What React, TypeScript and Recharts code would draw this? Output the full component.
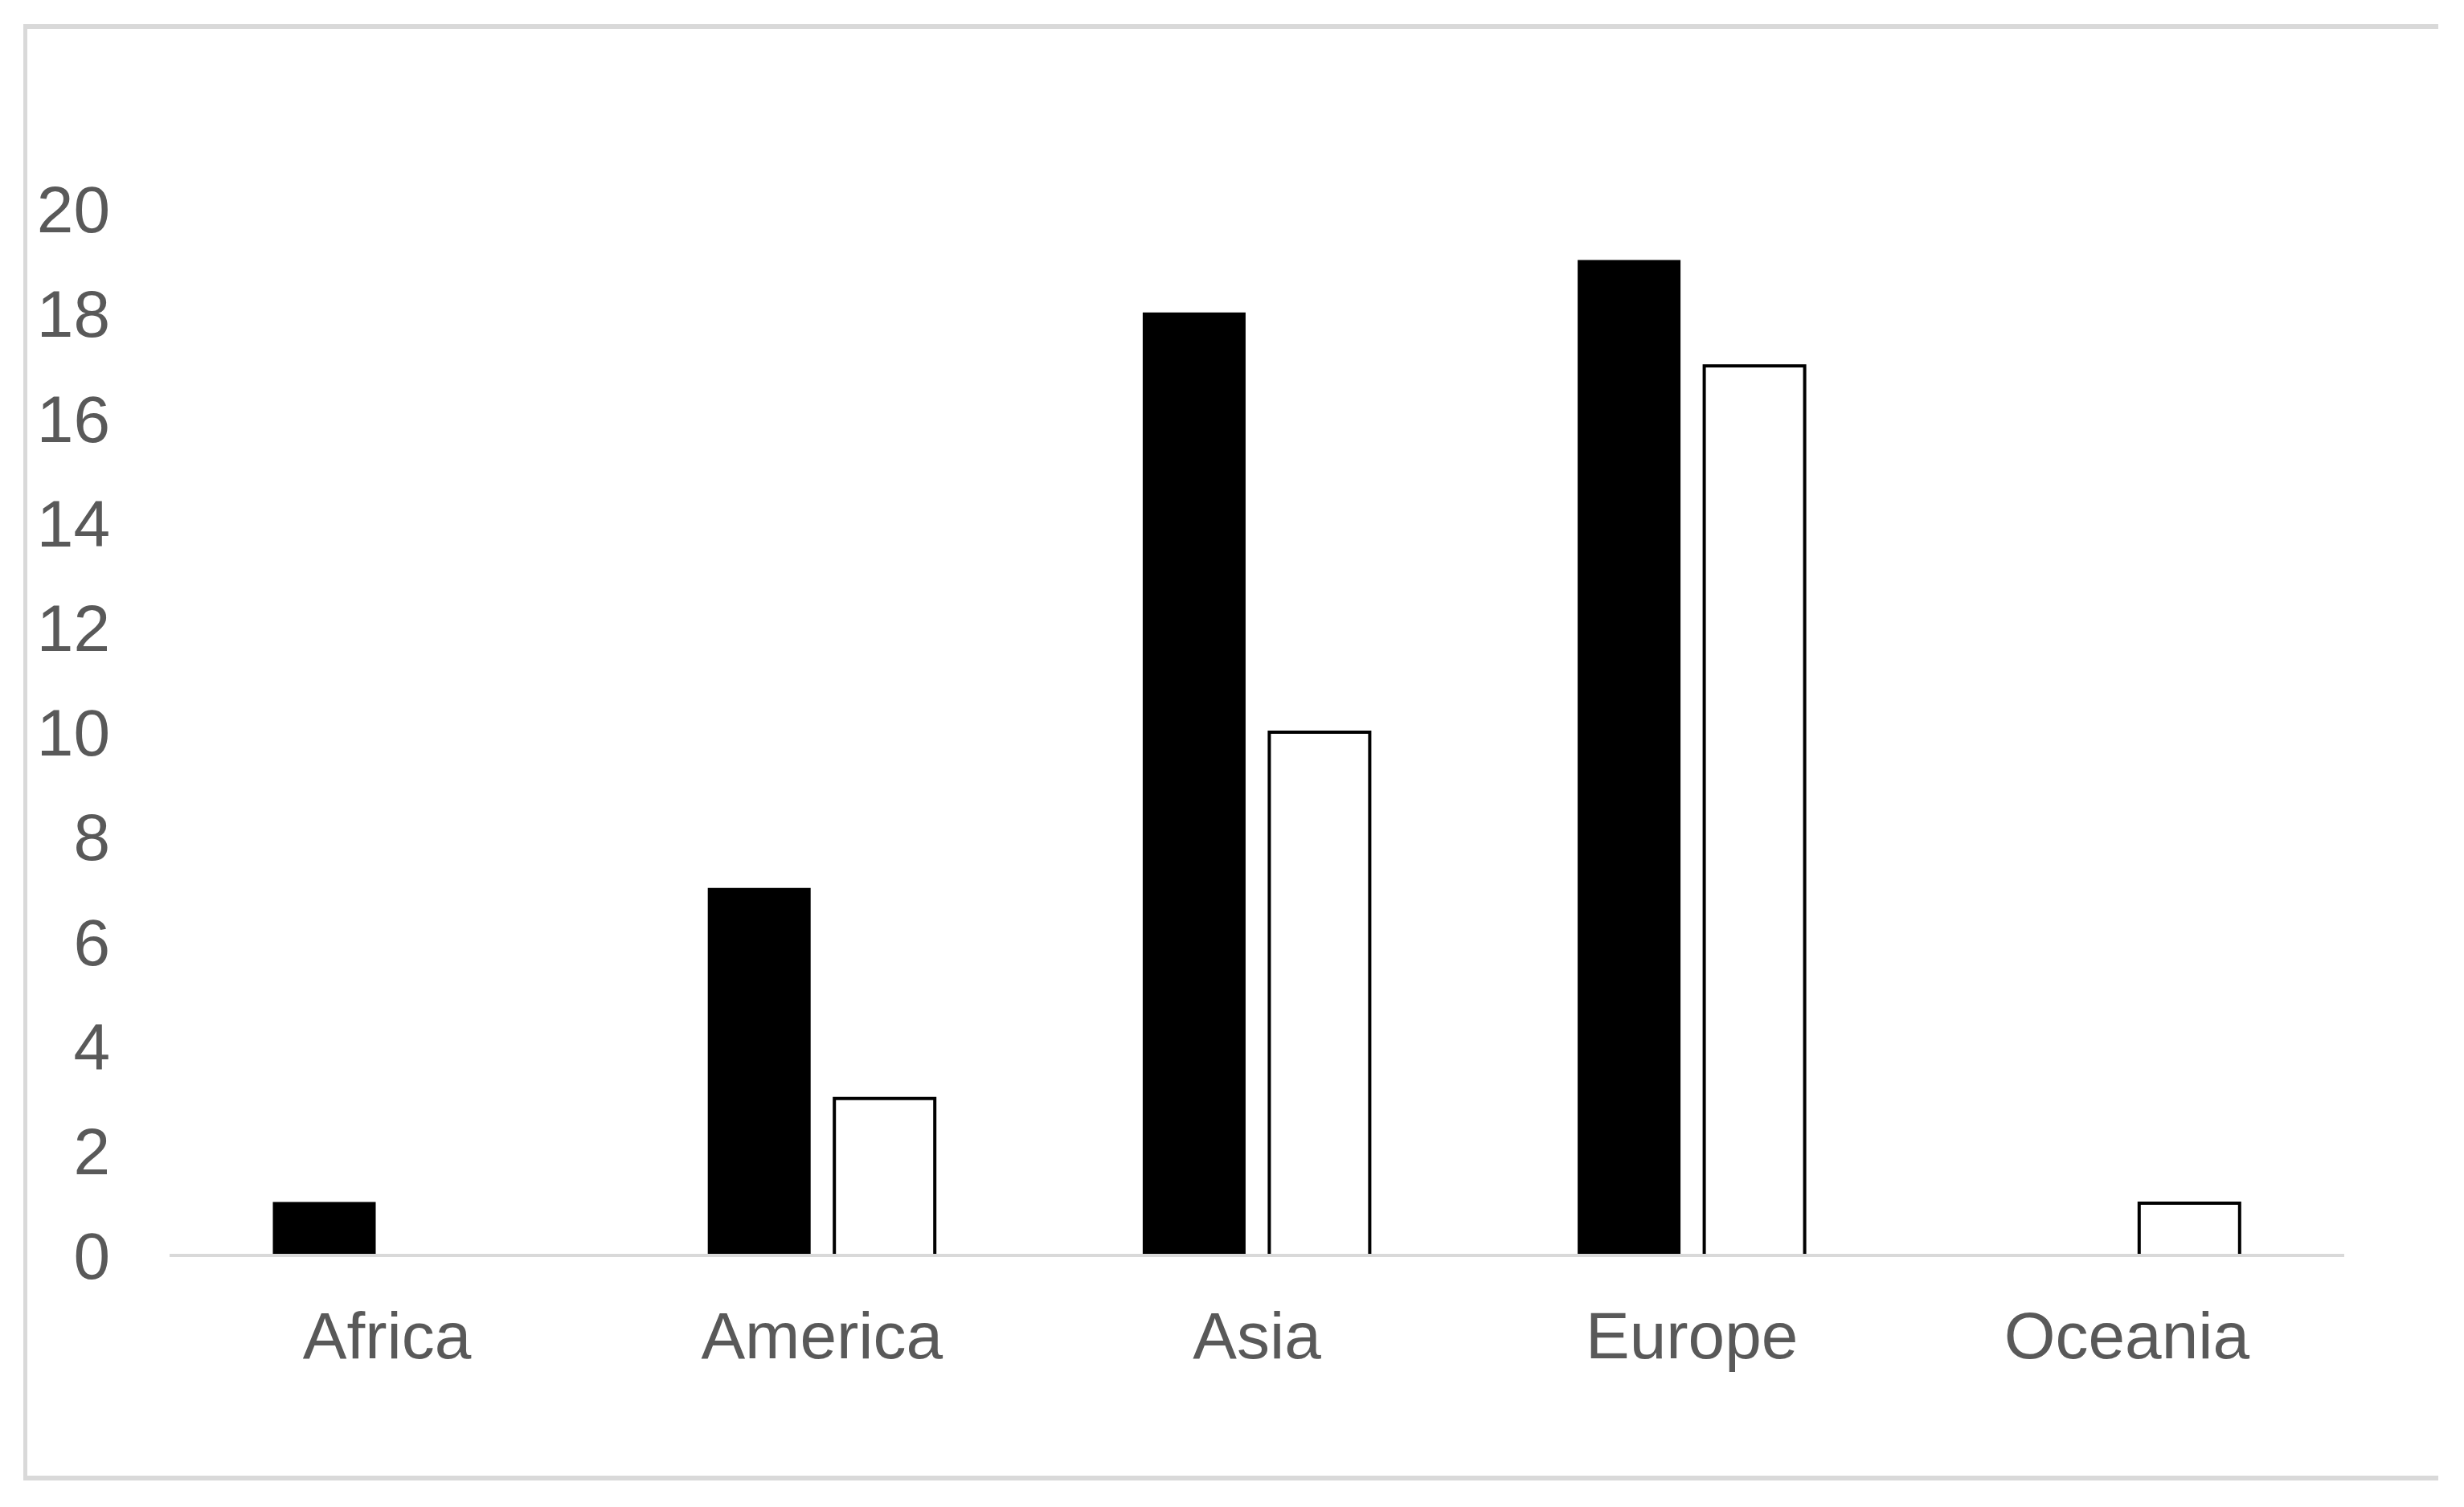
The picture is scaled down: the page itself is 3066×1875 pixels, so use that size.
import React from 'react';
import { BarChart, Bar, XAxis, YAxis } from 'recharts';

const regions = ['Africa', 'America', 'Asia', 'Europe', 'Oceania'];
const firstSeries = [1, 7, 18, 19, 0];
const secondSeries = [0, 3, 10, 17, 1];
const yTicks = [0, 2, 4, 6, 8, 10, 12, 14, 16, 18, 20];

const data = regions.map((region, i) => ({
  region,
  first: firstSeries[i],
  second: secondSeries[i]
}));

const font = '"Liberation Sans", Arial, sans-serif';
const tickStyle = { fontSize: 82, fill: '#595959', fontFamily: font };

export default function App() {
  return (
    <div style={{ position: 'absolute', left: 0, top: 0, width: 3066, height: 1875, background: '#fff' }}>
      {/* chart frame, right edge is cropped off in the original */}
      <div
        style={{
          position: 'absolute',
          left: 29,
          top: 30,
          width: 3005,
          height: 1812,
          borderTop: '6px solid #d9d9d9',
          borderBottom: '6px solid #d9d9d9',
          borderLeft: '5px solid #d9d9d9',
          boxSizing: 'border-box'
        }}
      />
      <div style={{ position: 'absolute', left: 0, top: 0 }}>
        <BarChart
          width={3066}
          height={1875}
          data={data}
          margin={{ top: 260, right: 149, bottom: 0, left: 0 }}
          barSize={125}
          barGap={31}
        >
          <XAxis
            dataKey="region"
            tick={tickStyle}
            tickLine={false}
            tickSize={0}
            tickMargin={70}
            axisLine={{ stroke: '#d9d9d9', strokeWidth: 4 }}
            height={313}
          />
          <YAxis
            domain={[0, 20]}
            ticks={yTicks}
            interval={0}
            width={211}
            tick={tickStyle}
            tickLine={false}
            tickSize={0}
            tickMargin={74}
            axisLine={false}
          />
          <Bar dataKey="first" fill="#000000" stroke="#000000" strokeWidth={3} isAnimationActive={false} />
          <Bar dataKey="second" fill="#ffffff" stroke="#000000" strokeWidth={4} isAnimationActive={false} />
        </BarChart>
      </div>
    </div>
  );
}
